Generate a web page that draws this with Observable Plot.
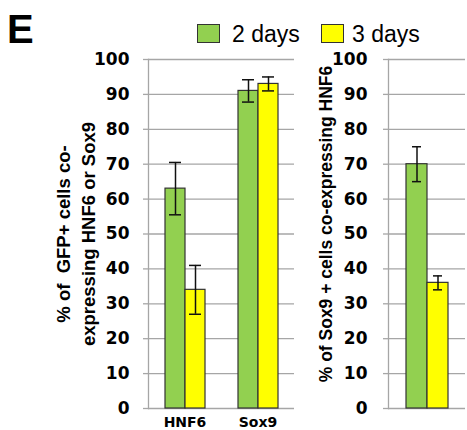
<!DOCTYPE html>
<html>
<head>
<meta charset="utf-8">
<script src="https://cdn.jsdelivr.net/npm/d3@7"></script>
<script src="https://cdn.jsdelivr.net/npm/@observablehq/plot@0.6"></script>
<style>
  html, body { margin: 0; padding: 0; background: #fff; }
  #wrap { position: relative; width: 467px; height: 430px; overflow: hidden; font-family: "Liberation Sans", Arial, sans-serif; }
  #wrap svg { position: absolute; top: 0; }
  .lbl { position: absolute; line-height: 1; white-space: nowrap; color: #000; }
  .sw { position: absolute; box-sizing: border-box; border: 1.5px solid #333; }
</style>
</head>
<body>
<div id="wrap"></div>
<script>
// ---- data ----
const categories = ["HNF6", "Sox9"];
const series = ["2 days", "3 days"];
const seriesColors = ["#92d050", "#ffff00"];
const left2days = [63, 91];
const left3days = [34, 93];
const left2daysErr = [7.5, 3.2];
const left3daysErr = [7, 2];
const rightValues = [70, 36];
const rightErr = [5, 2];
const yTicks = [0, 10, 20, 30, 40, 50, 60, 70, 80, 90, 100];
const panelLabel = "E";
const leftYTitle = "% of  GFP+ cells co-\nexpressing HNF6 or Sox9";
const rightYTitle = "% of Sox9 + cells co-expressing HNF6";

const leftData = [];
categories.forEach((c, i) => {
  leftData.push({category: c, series: series[0], value: left2days[i], err: left2daysErr[i]});
  leftData.push({category: c, series: series[1], value: left3days[i], err: left3daysErr[i]});
});
const rightData = series.map((s, i) => ({series: s, value: rightValues[i], err: rightErr[i]}));

const gridColor = "#a6a6a6";
const tickFont = "DejaVu Sans";
const titleFont = "Liberation Sans";

const wrap = document.getElementById("wrap");

const leftPlot = Plot.plot({
  width: 300, height: 430,
  marginLeft: 148, marginRight: 6, marginTop: 59, marginBottom: 22,
  style: {background: "transparent", color: "#000", overflow: "visible"},
  fx: {domain: categories, padding: 0, label: null},
  x: {domain: series, paddingInner: 0, paddingOuter: 0.78, axis: null},
  y: {domain: [0, 100], axis: null},
  color: {domain: series, range: seriesColors},
  marks: [
    Plot.gridY(yTicks, {stroke: gridColor, strokeOpacity: 1, strokeWidth: 1.3}),
    Plot.barY(leftData, {fx: "category", x: "series", y: "value", fill: "series", stroke: "#333", strokeWidth: 1.2}),
    Plot.ruleX(leftData, {fx: "category", x: "series", y1: d => d.value - d.err, y2: d => d.value + d.err, stroke: "#111", strokeWidth: 1.5}),
    Plot.tickY(leftData, {fx: "category", x: "series", y: d => d.value + d.err, insetLeft: 4, insetRight: 4, stroke: "#111", strokeWidth: 1.5}),
    Plot.tickY(leftData, {fx: "category", x: "series", y: d => d.value - d.err, insetLeft: 4, insetRight: 4, stroke: "#111", strokeWidth: 1.5}),
    Plot.frame({anchor: "left", stroke: gridColor, strokeWidth: 1.3, facetAnchor: "left"}),
    Plot.axisY(yTicks, {tickSize: 5, tickPadding: 14, stroke: gridColor, strokeWidth: 1.3, fill: "#000", fontFamily: tickFont, fontWeight: "bold", fontSize: 17, label: null}),
    Plot.axisFx({anchor: "bottom", tickSize: 0, tickPadding: 9, fontFamily: tickFont, fontWeight: "bold", fontSize: 14, fill: "#000", label: null}),
    Plot.text([leftYTitle], {frameAnchor: "left", textAnchor: "middle", rotate: -90, dx: -74, lineHeight: 1.35, fontFamily: titleFont, fontWeight: "bold", fontSize: 18.5, fill: "#000", facetAnchor: "left"})
  ]
});
leftPlot.style.left = "0px";
wrap.appendChild(leftPlot);

const rightPlot = Plot.plot({
  width: 167, height: 430,
  marginLeft: 88, marginRight: 2, marginTop: 59, marginBottom: 22,
  style: {background: "transparent", color: "#000", overflow: "visible"},
  x: {domain: series, paddingInner: 0, paddingOuter: 0.79, axis: null},
  y: {domain: [0, 100], axis: null},
  color: {domain: series, range: seriesColors},
  marks: [
    Plot.gridY(yTicks, {stroke: gridColor, strokeOpacity: 1, strokeWidth: 1.3}),
    Plot.barY(rightData, {x: "series", y: "value", fill: "series", stroke: "#333", strokeWidth: 1.2}),
    Plot.ruleX(rightData, {x: "series", y1: d => d.value - d.err, y2: d => d.value + d.err, stroke: "#111", strokeWidth: 1.5}),
    Plot.tickY(rightData, {x: "series", y: d => d.value + d.err, insetLeft: 6, insetRight: 6, stroke: "#111", strokeWidth: 1.5}),
    Plot.tickY(rightData, {x: "series", y: d => d.value - d.err, insetLeft: 6, insetRight: 6, stroke: "#111", strokeWidth: 1.5}),
    Plot.frame({anchor: "left", stroke: gridColor, strokeWidth: 1.3}),
    Plot.axisY(yTicks, {tickSize: 5, tickPadding: 16, stroke: gridColor, strokeWidth: 1.3, fill: "#000", fontFamily: tickFont, fontWeight: "bold", fontSize: 17, label: null}),
    Plot.text([rightYTitle], {frameAnchor: "left", textAnchor: "middle", rotate: -90, dx: -62, dy: -10, fontFamily: titleFont, fontWeight: "bold", fontSize: 17.5, fill: "#000"})
  ]
});
rightPlot.style.left = "300px";
wrap.appendChild(rightPlot);

// Panel letter
const e = document.createElement("div");
e.className = "lbl";
e.textContent = panelLabel;
Object.assign(e.style, {left: "7px", top: "9px", fontSize: "40px", fontWeight: "bold"});
wrap.appendChild(e);

// Legend
const legendPos = [{sw: 197, tx: 232}, {sw: 321, tx: 352}];
series.forEach((s, i) => {
  const sw = document.createElement("div");
  sw.className = "sw";
  Object.assign(sw.style, {left: legendPos[i].sw + "px", top: "24px", width: "23px", height: "19px", background: seriesColors[i]});
  wrap.appendChild(sw);
  const t = document.createElement("div");
  t.className = "lbl";
  t.textContent = s;
  Object.assign(t.style, {left: legendPos[i].tx + "px", top: "22.5px", fontSize: "23px"});
  wrap.appendChild(t);
});
</script>
</body>
</html>
